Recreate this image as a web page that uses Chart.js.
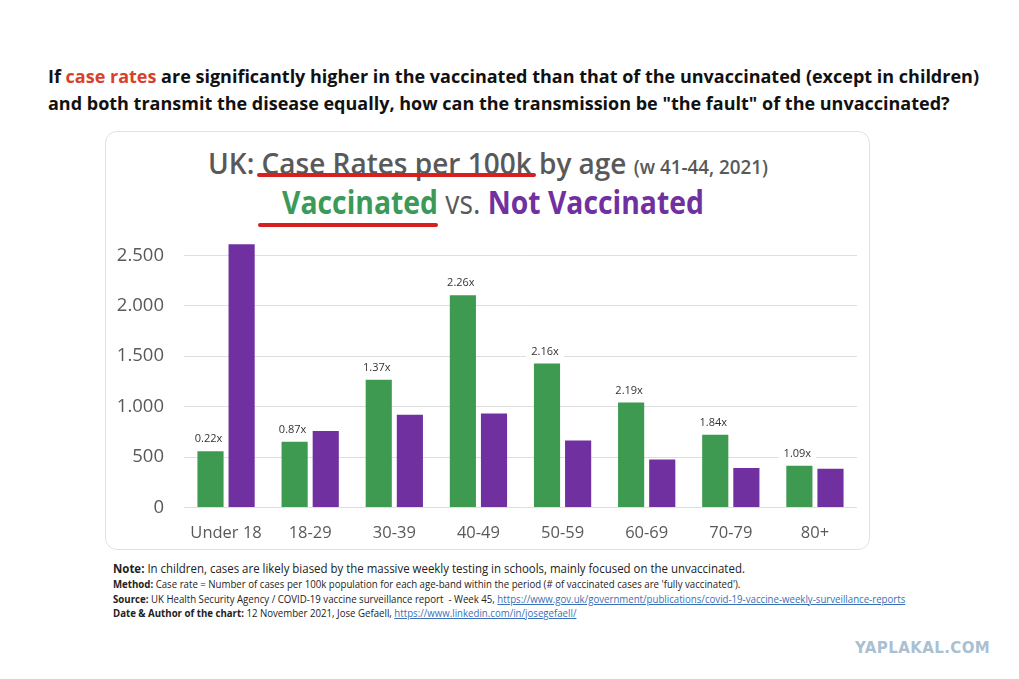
<!DOCTYPE html>
<html>
<head>
<meta charset="utf-8">
<script src="https://cdn.jsdelivr.net/npm/chart.js@4.4.0/dist/chart.umd.min.js"></script>
<style>
  body { margin: 0; width: 1019px; height: 679px; background: #fff; position: relative; overflow: hidden; font-family: 'Open Sans', sans-serif; }
  .q { position: absolute; left: 48px; font-weight: bold; font-size: 18px; color: #111; white-space: nowrap; }
  .q .red { color: #d9402b; }
  .card { position: absolute; left: 105px; top: 131px; width: 765px; height: 419px; border: 1px solid #e2e2e2; border-radius: 12px; box-sizing: border-box; }
  .t1, .t2 { position: absolute; white-space: nowrap; transform-origin: left top; }
  .t1 { left: 208px; top: 143px; font-size: 29px; font-weight: 600; color: #595959; transform: scaleX(0.965); }
  .t1 small { font-size: 19.5px; font-weight: 600; }
  .t2 { left: 282px; top: 180px; font-size: 32px; font-weight: bold; transform: scaleX(0.885); }
  .uline { position: absolute; height: 4px; background: #d61f1f; border-radius: 2px; }
  #wrap { position: absolute; left: 110px; top: 208.5px; width: 750px; height: 336.5px; }
  .notes { position: absolute; left: 113px; top: 561px; color: #222; white-space: nowrap; }
  .notes div { font-size: 10px; line-height: 14.5px; transform-origin: left center; transform: scaleX(0.965); }
  .notes div.first { font-size: 12.5px; line-height: 16px; transform: scaleX(0.916); }
  .notes a { color: #3b6fb6; text-decoration: underline; }
  .wm { position: absolute; left: 855px; top: 639px; font-family: 'DejaVu Sans', sans-serif; font-weight: bold; font-size: 15px; color: #a9c0d2; letter-spacing: 0.4px; }
</style>
</head>
<body>
<div class="q" style="top:64px">If <span class="red">case rates</span> are significantly higher in the vaccinated than that of the unvaccinated (except in children)</div>
<div class="q" style="top:91px">and both transmit the disease equally, how can the transmission be "the fault" of the unvaccinated?</div>

<div class="card"></div>
<div class="t1">UK: Case Rates per 100k by age <small>(w 41-44, 2021)</small></div>
<div class="t2"><span style="color:#3b9a57">Vaccinated</span> <span style="color:#595959;font-weight:normal">vs.</span> <span style="color:#7030a0">Not Vaccinated</span></div>
<div class="uline" style="left:257px;top:173px;width:279px"></div>
<div class="uline" style="left:258px;top:223px;width:180px"></div>

<div id="wrap"><canvas id="chart"></canvas></div>

<div class="notes">
  <div class="first"><b>Note:</b> In children, cases are likely biased by the massive weekly testing in schools, mainly focused on the unvaccinated.</div>
  <div><b>Method:</b> Case rate = Number of cases per 100k population for each age-band within the period (# of vaccinated cases are 'fully vaccinated').</div>
  <div><b>Source:</b> UK Health Security Agency / COVID-19 vaccine surveillance report &nbsp;- Week 45, <a>https://www.gov.uk/government/publications/covid-19-vaccine-weekly-surveillance-reports</a></div>
  <div><b>Date &amp; Author of the chart:</b> 12 November 2021, Jose Gefaell, <a>https://www.linkedin.com/in/josegefaell/</a></div>
</div>
<div class="wm">YAPLAKAL.COM</div>

<script>
// age bands
const ageBands = ['Under 18', '18-29', '30-39', '40-49', '50-59', '60-69', '70-79', '80+']
// case rates per 100k, weeks 41-44
const vaccinated = [558, 651, 1265, 2104, 1426, 1040, 720, 413]
const notVaccinated = [2609, 757, 918, 931, 664, 475, 391, 383]
// ratio labels shown above green bars
const ratios = ['0.22x', '0.87x', '1.37x', '2.26x', '2.16x', '2.19x', '1.84x', '1.09x']
// y axis ticks
const yTicks = [0, 500, 1000, 1500, 2000, 2500]
const yTickLabels = ['0', '500', '1.000', '1.500', '2.000', '2.500']

// ratio text above each green bar, on a white patch that breaks the grid line
const ratioLabels = {
  id: 'ratioLabels',
  afterDatasetsDraw(chart) {
    const ctx = chart.ctx
    const meta = chart.getDatasetMeta(0)
    ctx.save()
    ctx.font = '11px "Open Sans", sans-serif'
    ctx.textAlign = 'center'
    ctx.textBaseline = 'middle'
    meta.data.forEach((bar, i) => {
      const x = bar.x - 2
      const y = bar.y - 12
      const w = ctx.measureText(ratios[i]).width + 10
      ctx.fillStyle = '#ffffff'
      ctx.fillRect(x - w / 2, y - 7, w, 14)
      ctx.fillStyle = '#333333'
      ctx.fillText(ratios[i], x, y)
    })
    ctx.restore()
  }
}

const ctx = document.getElementById('chart').getContext('2d')
const chart = new Chart(ctx, {
  type: 'bar',
  data: {
    labels: ageBands,
    datasets: [
      {
        label: 'Vaccinated',
        data: vaccinated,
        backgroundColor: '#3d9a50',
        categoryPercentage: 0.74,
        barPercentage: 0.84
      },
      {
        label: 'Not Vaccinated',
        data: notVaccinated,
        backgroundColor: '#7030a0',
        categoryPercentage: 0.74,
        barPercentage: 0.84
      }
    ]
  },
  options: {
    responsive: true,
    maintainAspectRatio: false,
    animation: false,
    layout: { padding: { top: 7.5, right: 3, left: 0, bottom: 0 } },
    scales: {
      y: {
        min: 0,
        max: 2650,
        afterBuildTicks: (scale) => {
          scale.ticks = yTicks.map(v => ({ value: v }))
        },
        afterFit: (scale) => { scale.width = 74 },
        ticks: {
          autoSkip: false,
          padding: 20,
          color: '#595959',
          font: { size: 18.5, family: '"Open Sans", sans-serif' },
          callback: function(value) {
            const i = yTicks.indexOf(value)
            return i >= 0 ? yTickLabels[i] : ''
          }
        },
        grid: { drawTicks: false, color: '#dedede' },
        border: { display: false }
      },
      x: {
        afterFit: (scale) => { scale.height = 38 },
        ticks: {
          padding: 8,
          color: '#595959',
          font: { size: 16.5, family: '"Open Sans", sans-serif' }
        },
        grid: { display: false },
        border: { display: false }
      }
    },
    plugins: {
      legend: { display: false },
      tooltip: { enabled: false }
    }
  },
  plugins: [ratioLabels]
})
</script>
</body>
</html>
